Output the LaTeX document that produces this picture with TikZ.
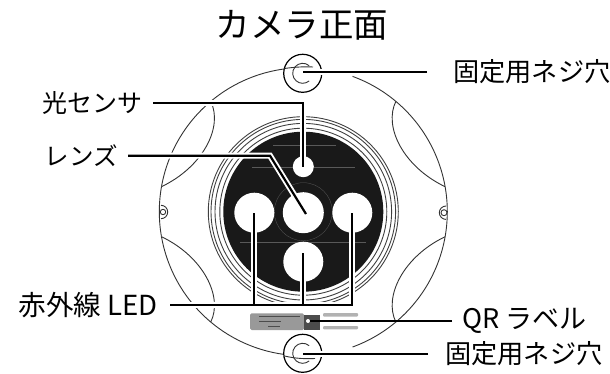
\documentclass[tikz,border=0pt]{standalone}
\usepackage{fontspec}
\setmainfont{Noto Sans CJK JP}
\begin{document}
\begin{tikzpicture}[x=1pt, y=1pt]
\tikzset{
    mybody/.style={draw=black!80, line width=0.9pt},
    myring/.style={draw=black!75, line width=0.9pt},
    myhole/.style={circle, fill=white, inner sep=0pt},
    myfaint/.style={draw=black!65, line width=0.3pt},
    myscrew/.style={circle, draw=black, line width=1.2pt, fill=white, inner sep=0pt, minimum size=38pt},
    mylabel/.style={inner sep=0pt, font=\fontsize{26.2}{30}\selectfont},
    myleader/.style={draw=black, line width=2.2pt, preaction={draw=white, line width=6pt}}
}
\useasboundingbox (0,0) rectangle (610,-374);
\coordinate (c) at (303.3,-211.7);

% outer shell, the same scallop in each quadrant
\foreach \sx/\sy in {1/1,-1/1,1/-1,-1/-1} {
\begin{scope}[shift={(c)}, xscale=\sx, yscale=\sy]
\draw[mybody] (10:144pt) arc[start angle=10, end angle=50, radius=144pt];
\draw[mybody] (50:144pt) .. controls (80,85) and (100,45) .. (10:144pt);
\end{scope}
}
\draw[mybody] ([shift={(c)}]-10:144pt) arc[start angle=-10, end angle=10, radius=144pt];
\draw[mybody] ([shift={(c)}]170:144pt) arc[start angle=170, end angle=190, radius=144pt];
\draw[mybody] ([shift={(c)}]50:144pt) arc[start angle=50, end angle=70, radius=144pt];
\draw[mybody] ([shift={(c)}]130:144pt) arc[start angle=130, end angle=87, radius=144pt];
\draw[mybody] ([shift={(c)}]-50:144pt) arc[start angle=-50, end angle=-70, radius=144pt];
\draw[mybody] ([shift={(c)}]-130:144pt) arc[start angle=-130, end angle=-88, radius=144pt];

% side screws
\draw[mybody] (163,-212) circle (2.7pt);
\draw[mybody] (161,-205.3) arc[start angle=90, end angle=-90, radius=6.7pt];
\draw[mybody] (444,-212.7) circle (3pt);
\draw[mybody] (446,-206) arc[start angle=90, end angle=270, radius=6.7pt];

% rings and the dark face
\foreach \r in {95,92.3,88.3,83.5} {
\draw[myring] (c) circle (\r pt);
}
\fill[black!90] (c) circle (80pt);
\draw[myfaint] (c) circle (29pt);
\draw[myfaint] (252,-166.7) -- (355,-166.7);
\draw[myfaint] (240,-241.7) -- (366,-241.7);
\draw[myfaint] (273,-145) -- (336,-145);

\node[myhole, minimum size=21pt] (sensor) at (303.3,-166.7) {};
\node[myhole, minimum size=41pt] (lens) at (303.3,-212.7) {};
\node[myhole, minimum size=40pt] (ledleft) at (254.3,-212.7) {};
\node[myhole, minimum size=40pt] (ledright) at (352.3,-212.7) {};
\node[myhole, minimum size=40pt] (ledbottom) at (303.3,-261.7) {};

% QR sticker
\draw[fill=black!40, draw=none, rounded corners=1.5pt] (250,-313.3) rectangle (304,-330);
\node[fill=black!70, inner sep=0pt, minimum width=16pt, minimum height=15pt] (qrcode) at (311.5,-322) {};
\fill[black!30, rounded corners=1pt] (323,-313) rectangle (358,-316.7);
\fill[black!30, rounded corners=1pt] (323,-326) rectangle (358,-329.3);
\draw[black!70, line width=1pt] (259,-316.5) -- (300,-316.5);
\draw[black!70, line width=0.8pt] (259,-321.5) -- (281,-321.5);
\draw[black!70, line width=0.8pt] (268,-326.5) -- (280,-326.5);

% mounting screws
\node[myscrew] (screwtop) at (302.7,-73.3) {};
\node[myscrew] (screwbottom) at (302.7,-353.3) {};
\draw[mybody] ([shift={(302.7,-73.3)}]50:10pt) arc[start angle=50, end angle=310, radius=10pt];
\draw[mybody] ([shift={(302.7,-353.3)}]50:10pt) arc[start angle=50, end angle=310, radius=10pt];
\draw[mybody] (284.5,-68.5) .. controls (295,-67) and (305,-66.5) .. (313,-67);
\draw[mybody] (284.5,-356) .. controls (295,-358.5) and (305,-359) .. (315,-358.5);

\node[mylabel, font=\fontsize{34.5}{40}\selectfont] (title) at (302,-25) {カメラ正面};
\node[mylabel, anchor=west] (toplabel) at (453,-71.7) {固定用ネジ穴};
\node[mylabel, anchor=east, font=\fontsize{25}{30}\selectfont] (sensorlabel) at (143,-102.7) {光センサ};
\node[mylabel, anchor=east, font=\fontsize{24.5}{30}\selectfont] (lenslabel) at (118,-155.7) {レンズ};
\node[mylabel, anchor=east, font=\fontsize{27.6}{30}\selectfont] (ledlabel) at (158,-305) {赤外線 LED};
\node[mylabel, anchor=west, font=\fontsize{27}{30}\selectfont] (qrlabel) at (462,-321) {QR ラベル};
\node[mylabel, anchor=west] (bottomlabel) at (445,-354) {固定用ネジ穴};

\coordinate (ledstart) at (170,-305);
\coordinate (qrend) at (308,-321);
\draw[myleader, shorten <=26pt] (toplabel.west) -- (toplabel.west -| screwtop);
\draw[myleader, shorten <=10pt] (sensorlabel.east) -| (sensor.center);
\draw[myleader, shorten <=10pt] (lenslabel.east) -- (270,-155.7) -- ([shift={(2.7,-1.3)}]lens.center);
\draw[myleader] (ledstart) -| (ledright.center)
    (ledstart -| ledleft) -- (ledleft.center)
    (ledstart -| ledbottom) -- ([yshift=8.7pt]ledbottom.center);
\fill[black!70] (304,-314.5) rectangle (320,-329.5);
\draw[draw=black, line width=2.2pt, shorten <=10pt] (qrlabel.west) -- (qrend);
\draw[white, line width=1pt] (320,-318.5) -- (323,-318.5);
\fill[white] (qrend) circle (2pt);
\draw[myleader, shorten <=17pt] (bottomlabel.west) -- (bottomlabel.west -| screwbottom);
\end{tikzpicture}
\end{document}
